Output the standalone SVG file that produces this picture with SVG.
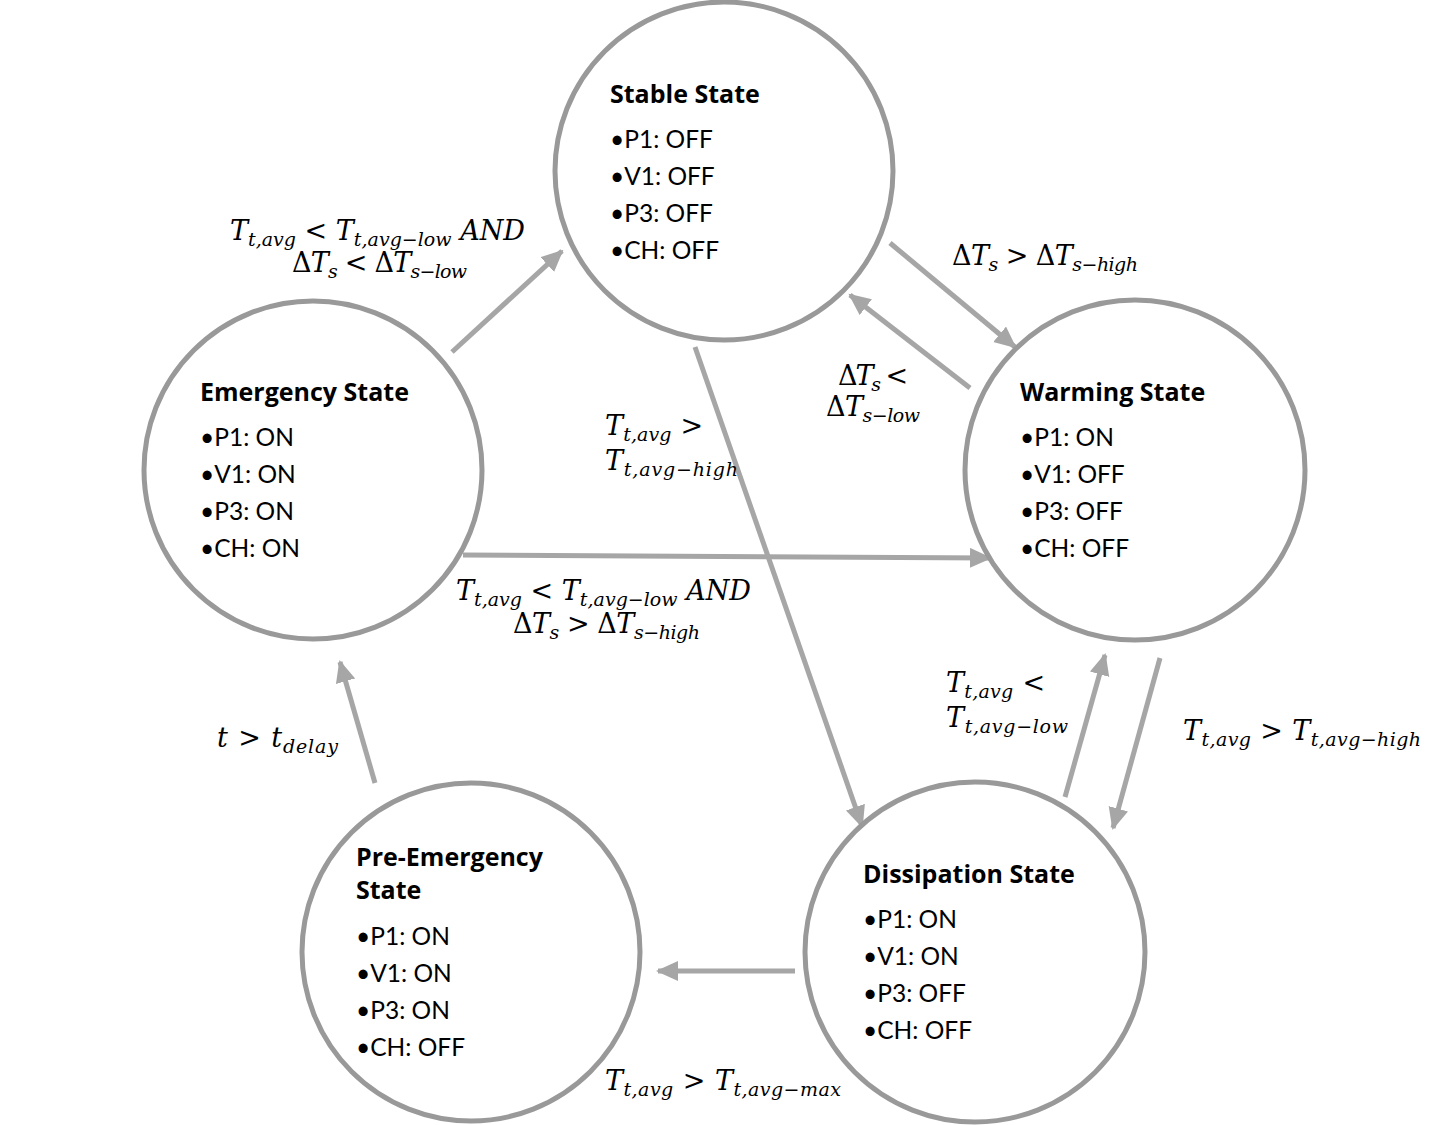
<svg xmlns="http://www.w3.org/2000/svg" width="1447" height="1125" viewBox="0 0 1447 1125">
<style>
.node{fill:#fff;stroke:#999;stroke-width:5}
.t{font-family:"Open Sans",Lato,sans-serif;font-weight:bold;font-size:25px;fill:#000}
.b{font-family:Lato,"Open Sans",sans-serif;font-size:24.5px;fill:#000}
.m{font-family:"DejaVu Serif",serif;font-style:italic;font-size:27px;fill:#000}
.s{font-size:19px}
.o{font-style:normal}
.c{stroke:#a6a6a6;stroke-width:5;fill:none;marker-end:url(#ah)}
</style>
<defs>
<marker id="ah" markerUnits="userSpaceOnUse" markerWidth="24" markerHeight="22" refX="20" refY="10" orient="auto">
<path d="M0,0 L22,10 L0,20 Z" fill="#a6a6a6"/>
</marker>
</defs>
<rect width="1447" height="1125" fill="#fff"/>
<g id="connectors">
<line class="c" x1="452" y1="352" x2="562" y2="251"/>
<line class="c" x1="890" y1="243" x2="1015" y2="347"/>
<line class="c" x1="970" y1="388" x2="850" y2="295"/>
<line class="c" x1="463" y1="555" x2="990" y2="558"/>
<line class="c" x1="695" y1="347" x2="862" y2="826"/>
<line class="c" x1="1065" y1="797" x2="1105" y2="655"/>
<line class="c" x1="1160" y1="658" x2="1113" y2="828"/>
<line class="c" x1="795" y1="971" x2="658" y2="971"/>
<line class="c" x1="375" y1="783" x2="340" y2="662"/>
</g>
<g id="stable">
<circle class="node" cx="724" cy="171" r="169"/>
<text class="t" x="610" y="103">Stable State</text>
<text class="b" x="610" y="148">•P1: OFF</text>
<text class="b" x="610" y="185">•V1: OFF</text>
<text class="b" x="610" y="222">•P3: OFF</text>
<text class="b" x="610" y="259">•CH: OFF</text>
</g>
<g id="emergency">
<circle class="node" cx="313" cy="470" r="169"/>
<text class="t" x="200" y="401">Emergency State</text>
<text class="b" x="200" y="446">•P1: ON</text>
<text class="b" x="200" y="483">•V1: ON</text>
<text class="b" x="200" y="520">•P3: ON</text>
<text class="b" x="200" y="557">•CH: ON</text>
</g>
<g id="warming">
<circle class="node" cx="1135" cy="470" r="170"/>
<text class="t" x="1020" y="401">Warming State</text>
<text class="b" x="1020" y="446">•P1: ON</text>
<text class="b" x="1020" y="483">•V1: OFF</text>
<text class="b" x="1020" y="520">•P3: OFF</text>
<text class="b" x="1020" y="557">•CH: OFF</text>
</g>
<g id="preemergency">
<circle class="node" cx="471" cy="952" r="169"/>
<text class="t" x="356" y="866">Pre-Emergency</text>
<text class="t" x="356" y="899">State</text>
<text class="b" x="356" y="945">•P1: ON</text>
<text class="b" x="356" y="982">•V1: ON</text>
<text class="b" x="356" y="1019">•P3: ON</text>
<text class="b" x="356" y="1056">•CH: OFF</text>
</g>
<g id="dissipation">
<circle class="node" cx="975" cy="952" r="170"/>
<text class="t" x="863" y="883">Dissipation State</text>
<text class="b" x="863" y="928">•P1: ON</text>
<text class="b" x="863" y="965">•V1: ON</text>
<text class="b" x="863" y="1002">•P3: OFF</text>
<text class="b" x="863" y="1039">•CH: OFF</text>
</g>
<g id="labels">
<text class="m" x="230" y="240" textLength="295">T<tspan class="s" dy="6">t,avg</tspan><tspan class="o" dy="-6"> &lt; </tspan>T<tspan class="s" dy="6">t,avg−low</tspan><tspan dy="-6"> AND</tspan></text>
<text class="m" x="292" y="272" textLength="175"><tspan class="o">Δ</tspan>T<tspan class="s" dy="6">s</tspan><tspan class="o" dy="-6"> &lt; Δ</tspan>T<tspan class="s" dy="6">s−low</tspan></text>
<text class="m" x="952" y="265" textLength="186"><tspan class="o">Δ</tspan>T<tspan class="s" dy="6">s</tspan><tspan class="o" dy="-6"> &gt; Δ</tspan>T<tspan class="s" dy="6">s−high</tspan></text>
<text class="m" x="838" y="385" textLength="70"><tspan class="o">Δ</tspan>T<tspan class="s" dy="6">s</tspan><tspan class="o" dy="-6"> &lt;</tspan></text>
<text class="m" x="826" y="416" textLength="94"><tspan class="o">Δ</tspan>T<tspan class="s" dy="6">s−low</tspan></text>
<text class="m" x="605" y="435" textLength="98">T<tspan class="s" dy="6">t,avg</tspan><tspan class="o" dy="-6"> &gt;</tspan></text>
<text class="m" x="605" y="470" textLength="133">T<tspan class="s" dy="6">t,avg−high</tspan></text>
<text class="m" x="456" y="600" textLength="295">T<tspan class="s" dy="6">t,avg</tspan><tspan class="o" dy="-6"> &lt; </tspan>T<tspan class="s" dy="6">t,avg−low</tspan><tspan dy="-6"> AND</tspan></text>
<text class="m" x="513" y="633" textLength="187"><tspan class="o">Δ</tspan>T<tspan class="s" dy="6">s</tspan><tspan class="o" dy="-6"> &gt; Δ</tspan>T<tspan class="s" dy="6">s−high</tspan></text>
<text class="m" x="946" y="692" textLength="99">T<tspan class="s" dy="6">t,avg</tspan><tspan class="o" dy="-6"> &lt;</tspan></text>
<text class="m" x="946" y="727" textLength="122">T<tspan class="s" dy="6">t,avg−low</tspan></text>
<text class="m" x="1183" y="740" textLength="238">T<tspan class="s" dy="6">t,avg</tspan><tspan class="o" dy="-6"> &gt; </tspan>T<tspan class="s" dy="6">t,avg−high</tspan></text>
<text class="m" x="217" y="747" textLength="121">t<tspan class="o"> &gt; </tspan>t<tspan class="s" dy="6">delay</tspan></text>
<text class="m" x="605" y="1090" textLength="236">T<tspan class="s" dy="6">t,avg</tspan><tspan class="o" dy="-6"> &gt; </tspan>T<tspan class="s" dy="6">t,avg−max</tspan></text>
</g>
</svg>
